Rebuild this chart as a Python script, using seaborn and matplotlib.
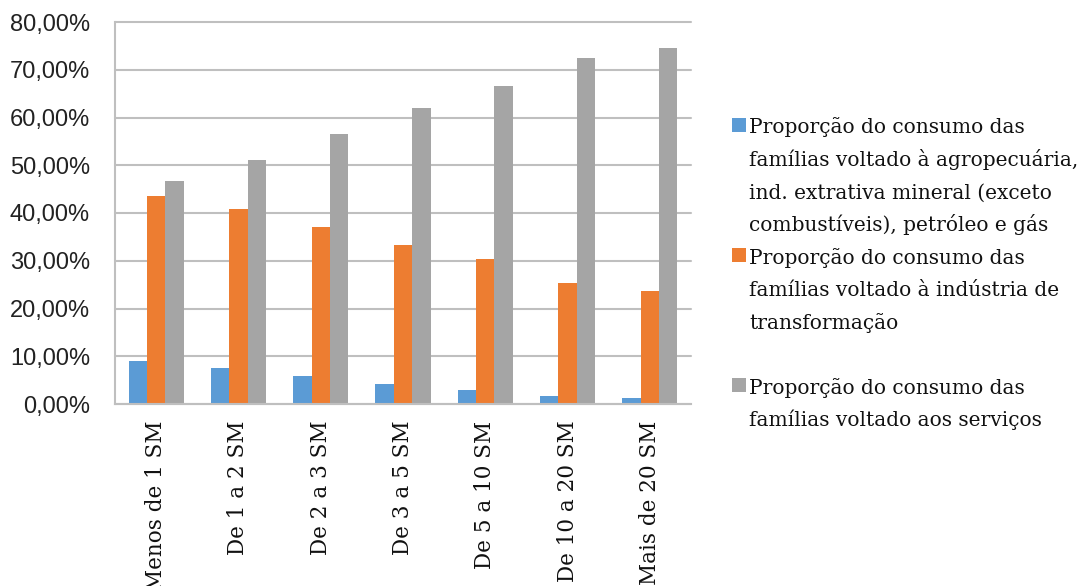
import matplotlib
matplotlib.use("Agg")
import matplotlib.pyplot as plt
from matplotlib.lines import Line2D
from matplotlib.ticker import FuncFormatter
import seaborn as sns
import pandas as pd

# ---- data ----
categorias = ["Menos de 1 SM", "De 1 a 2 SM", "De 2 a 3 SM", "De 3 a 5 SM",
              "De 5 a 10 SM", "De 10 a 20 SM", "Mais de 20 SM"]
agro = [9.1, 7.5, 5.8, 4.1, 2.9, 1.7, 1.3]
industria = [43.6, 40.8, 37.0, 33.2, 30.3, 25.3, 23.6]
servicos = [46.6, 51.1, 56.6, 62.0, 66.6, 72.4, 74.5]
series_labels = [
    "Proporção do consumo das\nfamílias voltado à agropecuária,\nind. extrativa mineral (exceto\ncombustíveis), petróleo e gás",
    "Proporção do consumo das\nfamílias voltado à indústria de\ntransformação",
    "Proporção do consumo das\nfamílias voltado aos serviços",
]
cores = ["#5B9BD5", "#ED7D31", "#A5A5A5"]
yticks = [0, 10, 20, 30, 40, 50, 60, 70, 80]

rows = []
for lab, vals in zip(series_labels, [agro, industria, servicos]):
    for c, v in zip(categorias, vals):
        rows.append({"faixa": c, "serie": lab, "valor": v})
df = pd.DataFrame(rows)

sns.set_style("white")
fig = plt.figure(figsize=(10.9, 5.86), dpi=100)
ax = fig.add_axes([115 / 1090, 1 - 404 / 586, 576 / 1090, 382 / 586])

sns.barplot(data=df, x="faixa", y="valor", hue="serie", order=categorias,
            hue_order=series_labels, palette=cores, saturation=1,
            width=0.67, gap=0, legend=False, errorbar=None, linewidth=0, ax=ax)

ax.set_xlim(-0.5, len(categorias) - 0.5)
ax.set_ylim(0, 80)
ax.set_yticks(yticks)
ax.yaxis.set_major_formatter(FuncFormatter(lambda v, p: f"{v:.2f}%".replace(".", ",")))
ax.set_xlabel("")
ax.set_ylabel("")

gridc = "#BFBFBF"
ax.yaxis.grid(True, color=gridc, linewidth=1.5)
ax.xaxis.grid(False)
ax.set_axisbelow(True)
for gl in ax.get_ygridlines():
    gl.set_clip_on(False)
for s in ["top", "right"]:
    ax.spines[s].set_visible(False)
for s in ["left", "bottom"]:
    ax.spines[s].set_color(gridc)
    ax.spines[s].set_linewidth(1.5)

ax.tick_params(axis="y", length=0, pad=18)
ax.tick_params(axis="x", length=0, pad=12)
for t in ax.get_yticklabels():
    t.set_fontfamily("Liberation Sans")
    t.set_fontsize(17)
    t.set_color("#222222")
for t in ax.get_xticklabels():
    t.set_fontfamily("DejaVu Serif")
    t.set_fontsize(15.5)
    t.set_rotation(90)
    t.set_va("top")
    t.set_ha("center")
    t.set_color("#111111")

# ---- legend: one row per text line, marker on first line of each entry ----
handles, labels = [], []
n_rows = 4
for i, (lab, cor) in enumerate(zip(series_labels, cores)):
    lines = lab.split("\n")
    if i < len(series_labels) - 1:
        lines = lines + [""] * (n_rows - len(lines))
    for j, ln in enumerate(lines):
        if j == 0:
            handles.append(Line2D([], [], linestyle="none", marker="s",
                                  markersize=10, markerfacecolor=cor,
                                  markeredgewidth=0))
        else:
            handles.append(Line2D([], [], linestyle="none", marker="None"))
        labels.append(ln if ln else " ")

leg = fig.legend(handles, labels, loc="upper left",
                 bbox_to_anchor=(731 / 1090, 1 - 116 / 586),
                 frameon=False, borderpad=0, borderaxespad=0,
                 handlelength=0.8, handletextpad=0.1, handleheight=1.2,
                 labelspacing=0.57,
                 prop={"family": "DejaVu Serif", "size": 14.5})
for t in leg.get_texts():
    t.set_color("#111111")

fig.savefig("out.png", dpi=100)
